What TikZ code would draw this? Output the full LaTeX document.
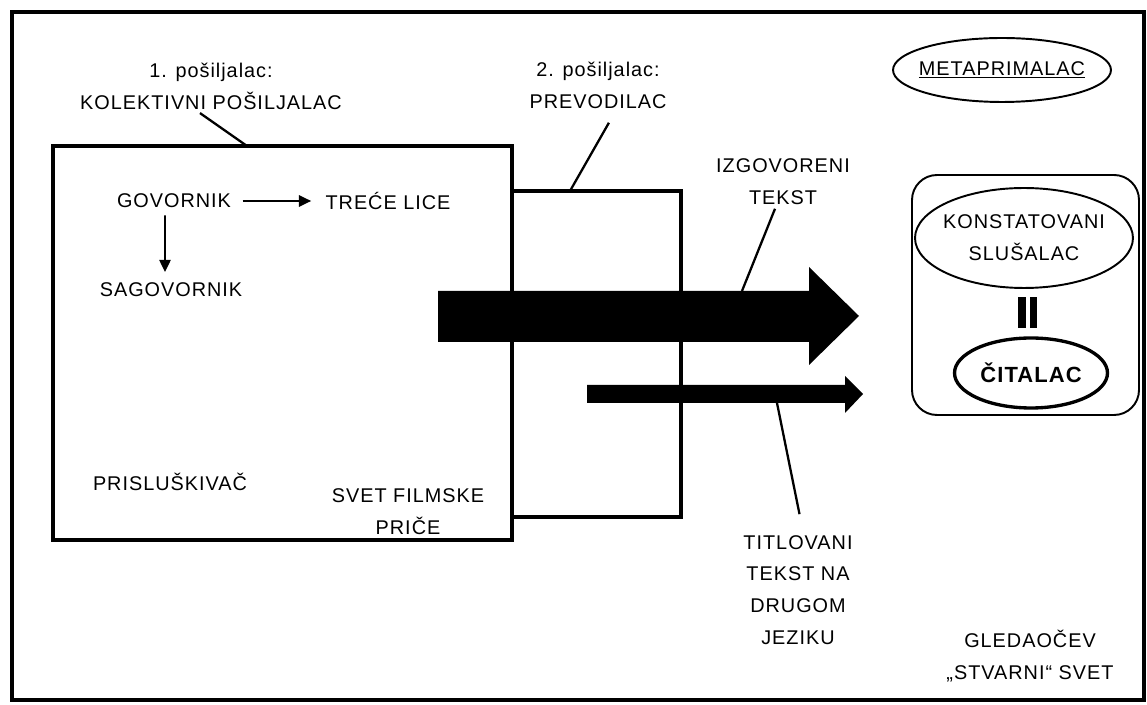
\documentclass[tikz,border=0pt]{standalone}
\usepackage{fontspec}
\setmainfont{Liberation Sans}[LetterSpace=5]
\usetikzlibrary{shapes.geometric,arrows.meta}

\begin{document}
\begin{tikzpicture}[
  x=0.02cm,
  y=-0.02cm,
  every node/.style={font=\fontsize{11.3}{18.1}\selectfont, align=center, inner sep=2pt},
  frame/.style={line width=2pt},
  leader/.style={line width=1.3pt},
  flow/.style={line width=1pt, -{Triangle[length=7pt,width=6.5pt]}},
  oval/.style={ellipse, draw, line width=1.1pt, inner sep=-6pt},
  block/.style={fill=black}
]
  \useasboundingbox (0,0) rectangle (1147,705);

  % ---- outer frame and the two senders' boxes -------------------------
  \draw[frame] (12,12) rectangle (1144,700);
  \draw[frame] (512,191) -- (681,191) -- (681,517) -- (512,517);
  \draw[frame] (53,146) rectangle (512,540);

  % ---- spoken and subtitled text streams ------------------------------
  \fill[block] (438,291) -- (809,291) -- (809,267) -- (859,316)
    -- (809,365) -- (809,342) -- (438,342) -- cycle;
  \fill[block] (587,385) -- (845,385) -- (845,376) -- (863,394)
    -- (845,413) -- (845,403) -- (587,403) -- cycle;

  \coordinate (box1top) at (247,146);
  \coordinate (box2top) at (570,191);
  \coordinate (bigtop) at (742,291);
  \coordinate (smallbot) at (777,403);

  % ---- labels outside the boxes ---------------------------------------
  \node (sender1) at (211,86) {1. pošiljalac:\\KOLEKTIVNI POŠILJALAC};
  \node (sender2) at (598,85) {2. pošiljalac:\\PREVODILAC};
  \node[oval, minimum width=4.36cm, minimum height=1.28cm] (meta) at (1002,70)
    {\underline{METAPRIMALAC}};
  \node (spoken) at (783,182) {IZGOVORENI\\TEKST};
  \node (subs) at (798,590) {TITLOVANI\\TEKST NA\\DRUGOM\\JEZIKU};
  \node (world) at (1030,656) {GLEDAOČEV\\„STVARNI“ SVET};

  \draw[leader] ([xshift=-0.22cm]sender1.south) -- (box1top);
  \draw[leader, shorten <=7pt] ([xshift=0.34cm]sender2.south) -- (box2top);
  \draw[leader] ([xshift=-0.16cm]spoken.south) -- (bigtop);
  \draw[leader, shorten <=10pt] ([xshift=0.1cm]subs.north) -- (smallbot);

  % ---- inside the film world ------------------------------------------
  \node (speaker) at (174,201) {GOVORNIK};
  \node (third) at (388,201) {TREĆE LICE};
  \node (addressee) at (171,290) {SAGOVORNIK};
  \node (eavesdrop) at (170,482) {PRISLUŠKIVAČ};
  \node (filmworld) at (408,512) {SVET FILMSKE\\PRIČE};

  \draw[flow, shorten <=4.5pt, shorten >=6pt] (speaker.east) -- (third.west);
  \draw[flow, shorten <=2pt, shorten >=4pt]
    ([xshift=-0.18cm]speaker.south) -- ([xshift=-0.12cm]addressee.north);

  % ---- the viewer -----------------------------------------------------
  \draw[line width=1.1pt, rounded corners=0.5cm] (912,175) rectangle (1139,415);
  \node[oval, minimum width=4.36cm, minimum height=2cm] (listener) at (1024,238)
    {KONSTATOVANI\\SLUŠALAC};
  \fill (1018,297) rectangle (1026,328);
  \fill (1030,297) rectangle (1037,328);
  \node[oval, line width=1.9pt, minimum width=3.06cm, minimum height=1.4cm,
    font=\fontsize{12.5}{15}\selectfont\bfseries] (reader) at (1031,373) {ČITALAC};
\end{tikzpicture}
\end{document}
